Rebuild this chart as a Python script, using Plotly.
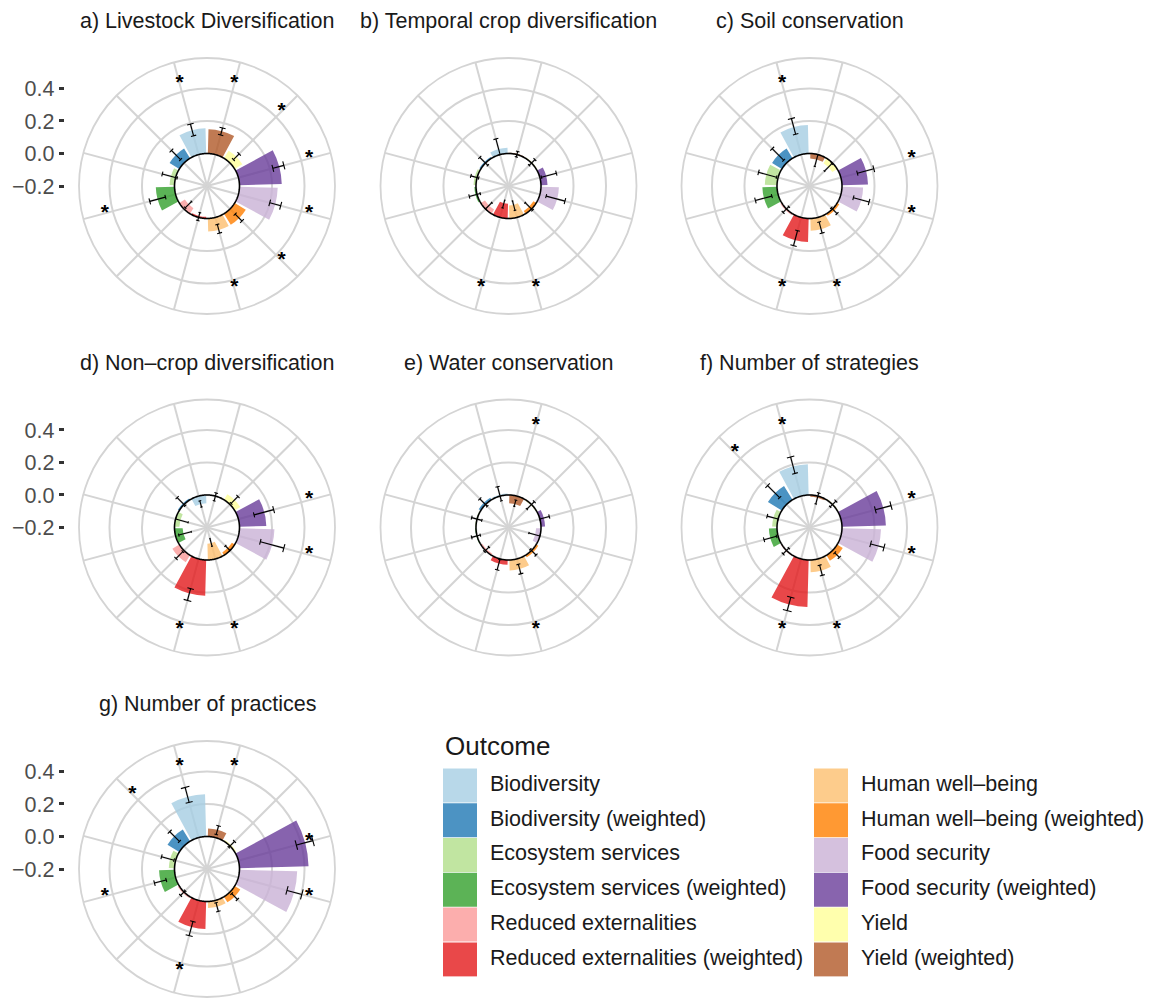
import numpy as np
import plotly.graph_objects as go

W, H = 1155, 1001

# ---------------- data ----------------
categories = [
    "Biodiversity", "Biodiversity (weighted)",
    "Ecosystem services", "Ecosystem services (weighted)",
    "Reduced externalities", "Reduced externalities (weighted)",
    "Human well–being", "Human well–being (weighted)",
    "Food security", "Food security (weighted)",
    "Yield", "Yield (weighted)",
]
colors = ["#A6CEE3", "#1F78B4", "#B2DF8A", "#33A02C", "#FB9A99", "#E31A1C",
          "#FDBF6F", "#FF7F00", "#CAB2D6", "#6A3D9A", "#FFFF99", "#B15928"]

panel_titles = [
    "a) Livestock Diversification",
    "b) Temporal crop diversification",
    "c) Soil conservation",
    "d) Non–crop diversification",
    "e) Water conservation",
    "f) Number of strategies",
    "g) Number of practices",
]

# effect size, lower / upper error bar, significance flag (order = categories)
eff_a = [0.155, 0.07, 0.03, 0.115, -0.04, -0.01, 0.08, 0.08, 0.235, 0.26, 0.055, 0.15]
lo_a  = [0.12, 0.03, -0.01, 0.065, -0.065, -0.03, 0.045, 0.045, 0.20, 0.22, 0.03, 0.125]
hi_a  = [0.195, 0.11, 0.085, 0.165, -0.01, 0.02, 0.10, 0.105, 0.27, 0.29, 0.08, 0.17]
sig_a = [1, 0, 0, 1, 0, 0, 1, 1, 1, 1, 1, 1]

eff_b = [0.035, 0.01, 0.015, 0.01, -0.03, -0.09, -0.08, -0.02, 0.11, 0.04, 0.005, 0.005]
lo_b  = [0.0, -0.02, -0.01, -0.02, -0.055, -0.11, -0.105, -0.055, 0.04, 0.01, -0.02, -0.015]
hi_b  = [0.10, 0.05, 0.04, 0.05, 0.0, -0.06, -0.045, 0.01, 0.16, 0.105, 0.03, 0.02]
sig_b = [0, 0, 0, 0, 0, 1, 1, 0, 0, 0, 0, 0]

eff_c = [0.175, 0.07, 0.075, 0.09, 0.01, 0.145, 0.075, 0.015, 0.13, 0.16, -0.035, -0.03]
lo_c  = [0.13, 0.025, 0.01, 0.04, -0.02, 0.085, 0.03, -0.01, 0.08, 0.105, -0.07, -0.075]
hi_c  = [0.23, 0.125, 0.125, 0.145, 0.03, 0.18, 0.10, 0.04, 0.18, 0.21, -0.005, 0.0]
sig_c = [1, 0, 0, 0, 0, 1, 1, 0, 1, 1, 0, 0]

eff_d = [-0.05, 0.01, -0.03, -0.05, 0.05, 0.22, -0.10, -0.02, 0.215, 0.165, 0.04, 0.0]
lo_d  = [-0.07, -0.01, -0.08, -0.10, 0.01, 0.19, -0.13, -0.04, 0.14, 0.10, 0.01, -0.03]
hi_d  = [-0.03, 0.06, 0.0, -0.02, 0.07, 0.265, -0.08, 0.0, 0.29, 0.225, 0.07, 0.02]
sig_d = [0, 0, 0, 0, 0, 1, 1, 0, 1, 1, 0, 0]

eff_e = [0.01, 0.015, 0.005, 0.005, -0.01, 0.03, 0.065, 0.015, -0.03, 0.025, -0.005, -0.05]
lo_e  = [-0.03, -0.015, -0.03, -0.02, -0.03, 0.005, 0.035, -0.01, -0.07, 0.0, -0.04, -0.065]
hi_e  = [0.06, 0.05, 0.035, 0.035, 0.01, 0.07, 0.095, 0.04, 0.0, 0.06, 0.025, -0.025]
sig_e = [0, 0, 0, 0, 0, 0, 1, 0, 0, 0, 0, 1]

eff_f = [0.19, 0.10, 0.03, 0.05, 0.005, 0.29, 0.075, 0.04, 0.24, 0.27, 0.005, -0.01]
lo_f  = [0.145, 0.06, 0.0, 0.01, -0.02, 0.245, 0.04, 0.02, 0.19, 0.22, -0.02, -0.05]
hi_f  = [0.25, 0.165, 0.07, 0.09, 0.03, 0.33, 0.105, 0.06, 0.275, 0.32, 0.03, 0.02]
sig_f = [1, 1, 0, 0, 0, 1, 1, 0, 1, 1, 0, 0]

eff_g = [0.26, 0.085, 0.035, 0.095, 0.01, 0.17, 0.04, 0.04, 0.355, 0.425, 0.01, 0.05]
lo_g  = [0.225, 0.04, 0.01, 0.06, -0.01, 0.135, 0.015, 0.015, 0.31, 0.37, -0.01, 0.02]
hi_g  = [0.32, 0.125, 0.09, 0.135, 0.03, 0.225, 0.07, 0.065, 0.405, 0.475, 0.04, 0.075]
sig_g = [1, 1, 0, 1, 0, 1, 0, 0, 1, 1, 0, 1]

effects = [eff_a, eff_b, eff_c, eff_d, eff_e, eff_f, eff_g]
lowers = [lo_a, lo_b, lo_c, lo_d, lo_e, lo_f, lo_g]
uppers = [hi_a, hi_b, hi_c, hi_d, hi_e, hi_f, hi_g]
sigs = [sig_a, sig_b, sig_c, sig_d, sig_e, sig_f, sig_g]

radial_ticks = [-0.2, 0.0, 0.2, 0.4]
R_MIN, R_MAX = -0.2, 0.5
STAR_R = 0.45

# ---------------- layout constants ----------------
FONT = "Liberation Sans, Arial, Helvetica, sans-serif"
GRID = "#D4D4D4"
OUTER = R_MIN + 1.125 * (R_MAX - R_MIN)      # ggplot outer circle (0.45 npc)
RAD_PX = 128                                  # outer circle radius in px
PANEL_HALF = RAD_PX / 0.45 / 2                # half of ggplot panel width
col_x = [207, 508.5, 809.5]
row_y = [186, 527.5, 869]
centers = [(col_x[k % 3], row_y[k // 3]) for k in range(7)]

ncat = len(categories)
step = 360 / ncat
theta = [i * step for i in range(ncat)]
bar_w = 0.9 * step
cap = 0.1 * step


def px_x(x):
    return x / W


def px_y(y):
    return 1 - y / H


fig = go.Figure()
layout_extra = {}
annotations = []

for k in range(7):
    cx, cy = centers[k]
    pid = "polar" if k == 0 else f"polar{k + 1}"
    eff, lo, hi, sg = effects[k], lowers[k], uppers[k], sigs[k]

    fig.add_trace(go.Barpolar(
        r=eff, theta=theta, base=0, width=bar_w,
        marker=dict(color=colors, line=dict(width=0)),
        opacity=0.8, subplot=pid, showlegend=False, hoverinfo="skip",
    ))
    # zero reference circle
    ring = np.linspace(0, 360, 361)
    fig.add_trace(go.Scatterpolar(
        r=np.zeros_like(ring), theta=ring, mode="lines",
        line=dict(color="black", width=1.5), subplot=pid,
        showlegend=False, hoverinfo="skip",
    ))
    # error bars
    th, rr = [], []
    for i in range(ncat):
        t = theta[i]
        th += [t, t, None, t - cap, t + cap, None, t - cap, t + cap, None]
        rr += [lo[i], hi[i], None, lo[i], lo[i], None, hi[i], hi[i], None]
    fig.add_trace(go.Scatterpolar(
        r=rr, theta=th, mode="lines", line=dict(color="black", width=1.1),
        subplot=pid, showlegend=False, hoverinfo="skip",
    ))
    # significance stars
    st = [theta[i] for i in range(ncat) if sg[i]]
    fig.add_trace(go.Scatterpolar(
        r=[STAR_R] * len(st), theta=st, mode="text", text=["<b>*</b>"] * len(st),
        textfont=dict(size=21, color="black", family=FONT),
        textposition="middle center",
        subplot=pid, showlegend=False, hoverinfo="skip",
    ))

    layout_extra[pid] = dict(
        domain=dict(x=[px_x(cx - RAD_PX), px_x(cx + RAD_PX)],
                    y=[px_y(cy + RAD_PX), px_y(cy - RAD_PX)]),
        bgcolor="white", hole=0,
        radialaxis=dict(range=[R_MIN, OUTER], tickvals=radial_ticks,
                        showticklabels=False, ticks="", showline=False,
                        gridcolor=GRID, gridwidth=1.8),
        angularaxis=dict(rotation=90 + step / 2, direction="counterclockwise",
                         tickvals=theta, showticklabels=False, ticks="",
                         gridcolor=GRID, gridwidth=1.8,
                         showline=True, linecolor=GRID, linewidth=1.8),
    )

    annotations.append(dict(
        x=px_x(cx), y=px_y(cy - 165), xref="paper", yref="paper",
        text=panel_titles[k], showarrow=False, xanchor="center", yanchor="middle",
        font=dict(size=21.5, color="#1A1A1A", family=FONT),
    ))

# radial axis labels for the left column (a, d, g) as cartesian y axes
for n, k in enumerate([0, 3, 6]):
    cx, cy = centers[k]
    xa = "xaxis" if n == 0 else f"xaxis{n + 1}"
    ya = "yaxis" if n == 0 else f"yaxis{n + 1}"
    xr = "x" if n == 0 else f"x{n + 1}"
    yr = "y" if n == 0 else f"y{n + 1}"
    left = cx - PANEL_HALF
    layout_extra[xa] = dict(domain=[px_x(left), px_x(left + 3)], visible=False,
                            range=[0, 1], anchor=yr, fixedrange=True)
    layout_extra[ya] = dict(
        domain=[px_y(cy + RAD_PX), px_y(cy - RAD_PX)],
        range=[R_MIN - (OUTER - R_MIN), OUTER], anchor=xr, side="left",
        tickvals=radial_ticks, tickformat=".1f", ticks="outside", ticklen=5,
        tickwidth=3.2, tickcolor="#333333", showgrid=False, zeroline=False,
        showline=False, tickfont=dict(size=21.5, color="#4D4D4D", family=FONT),
        fixedrange=True,
    )
    fig.add_trace(go.Scatter(x=[], y=[], xaxis=xr, yaxis=yr, showlegend=False))

# ---------------- custom legend ----------------
KEY = 34
PITCH = 34.8
LEG_LEFT, LEG_TOP = 443, 768
COL_GAP = 371
nrow = 6
leg_col = [i // nrow for i in range(ncat)]
leg_row = [i % nrow for i in range(ncat)]
layout_extra["xaxis4"] = dict(
    domain=[px_x(LEG_LEFT), 1], visible=False, anchor="y4", fixedrange=True,
    range=[-(KEY / 2) / COL_GAP, (W - LEG_LEFT - KEY / 2) / COL_GAP])
layout_extra["yaxis4"] = dict(
    domain=[px_y(LEG_TOP + nrow * PITCH), px_y(LEG_TOP)], visible=False,
    anchor="x4", range=[nrow - 0.5, -0.5], fixedrange=True)
fig.add_trace(go.Scatter(
    x=leg_col, y=leg_row, mode="markers", xaxis="x4", yaxis="y4",
    marker=dict(symbol="square", size=KEY, color=colors, opacity=0.8,
                line=dict(width=0)),
    showlegend=False, hoverinfo="skip"))
fig.add_trace(go.Scatter(
    x=[c + 30 / COL_GAP for c in leg_col], y=leg_row, mode="text",
    text=categories, textposition="middle right", xaxis="x4", yaxis="y4",
    textfont=dict(size=21.5, color="#1A1A1A", family=FONT),
    showlegend=False, hoverinfo="skip"))
annotations.append(dict(
    x=px_x(LEG_LEFT), y=px_y(746), xref="paper", yref="paper", text="Outcome",
    showarrow=False, xanchor="left", yanchor="middle",
    font=dict(size=26, color="#1A1A1A", family=FONT)))

fig.update_layout(
    width=W, height=H, margin=dict(l=0, r=0, t=0, b=0, pad=0),
    paper_bgcolor="white", plot_bgcolor="white", showlegend=False,
    font=dict(family=FONT, color="#1A1A1A"),
    annotations=annotations, **layout_extra,
)

fig.write_html("out.html", config={"displayModeBar": False},
               post_script="document.body.style.margin='0';")
